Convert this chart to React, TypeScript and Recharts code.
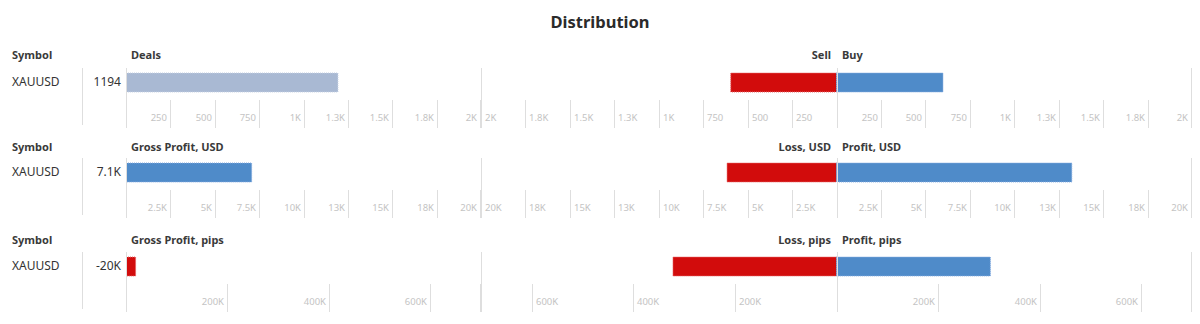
import React from 'react';
import { BarChart, Bar, XAxis, YAxis, Cell } from 'recharts';

const FONT = "'Noto Sans', Tahoma, sans-serif";

// ---------- data ----------
const symbols = ['XAUUSD'];

const rowTitles = ['Deals', 'Gross Profit, USD', 'Gross Profit, pips'];
const negTitles = ['Sell', 'Loss, USD', 'Loss, pips'];
const posTitles = ['Buy', 'Profit, USD', 'Profit, pips'];

// Row 1 — deals
const dealsTotal = [1194];
const dealsTotalLabels = ['1194'];
const dealsSell = [595];
const dealsBuy = [599];
const dealsTicks = [250, 500, 750, 1000, 1250, 1500, 1750, 2000];
const dealsTickLabels = ['250', '500', '750', '1K', '1.3K', '1.5K', '1.8K', '2K'];
const dealsMax = 2000;

// Row 2 — USD
const grossProfitUsd = [7080];
const grossProfitUsdLabels = ['7.1K'];
const lossUsd = [6158];
const profitUsd = [13238];
const usdTicks = [2500, 5000, 7500, 10000, 12500, 15000, 17500, 20000];
const usdTickLabels = ['2.5K', '5K', '7.5K', '10K', '13K', '15K', '18K', '20K'];
const usdMax = 20000;

// Row 3 — pips
const grossProfitPips = [-19000];
const grossProfitPipsLabels = ['-20K'];
const lossPips = [322000];
const profitPips = [303000];
const pipsTicks = [200000, 400000, 600000];
const pipsTickLabels = ['200K', '400K', '600K'];
const pipsMax = 700000;

// ---------- styles ----------
const DEALS = '#a9b9d3';
const BLUE = '#4f8bc9';
const RED = '#d20c0c';
const STROKES: Record<string, string> = {
  [DEALS]: '#c3cfe2',
  [BLUE]: '#86ace0',
  [RED]: '#e86a6a',
};
const GRID = '#dedede';
const TICK_TEXT = '#c4c4c4';
const TEXT = '#333333';

const LEFT_X = 126;
const LEFT_W = 355;
const MID_X = 481;
const MID_W = 711;
const PLOT_H = 29;
const AXIS_H = 32;

type RowCfg = {
  top: number;
  headerY: number;
  total: number[];
  totalLabels: string[];
  neg: number[];
  pos: number[];
  ticks: number[];
  tickLabels: string[];
  max: number;
  baseColor: string;
};

const rows: RowCfg[] = [
  { top: 68, headerY: 55, total: dealsTotal, totalLabels: dealsTotalLabels, neg: dealsSell, pos: dealsBuy, ticks: dealsTicks, tickLabels: dealsTickLabels, max: dealsMax, baseColor: DEALS },
  { top: 158, headerY: 147, total: grossProfitUsd, totalLabels: grossProfitUsdLabels, neg: lossUsd, pos: profitUsd, ticks: usdTicks, tickLabels: usdTickLabels, max: usdMax, baseColor: BLUE },
  { top: 252, headerY: 240, total: grossProfitPips, totalLabels: grossProfitPipsLabels, neg: lossPips, pos: profitPips, ticks: pipsTicks, tickLabels: pipsTickLabels, max: pipsMax, baseColor: BLUE },
];

function Txt({ x, y, text, size = 12, bold = false, color = TEXT, align = 'left' }: any) {
  const w = 300;
  const left = align === 'left' ? x : align === 'right' ? x - w : x - w / 2;
  return (
    <div
      style={{
        position: 'absolute',
        left,
        top: y - size * 0.53,
        width: w,
        fontFamily: FONT,
        fontSize: size,
        lineHeight: `${size}px`,
        fontWeight: bold ? 700 : 400,
        color,
        textAlign: align,
        whiteSpace: 'nowrap',
      }}
    >
      {text}
    </div>
  );
}

function makeTick(cfg: RowCfg, fullAt: number[], mirrored: boolean, chartW: number) {
  return (props: any) => {
    const { x, y, payload } = props;
    const v: number = payload.value;
    const lx = Math.min(Math.round(x) + 0.5, chartW - 0.5);
    const full = fullAt.includes(v);
    const idx = cfg.ticks.indexOf(Math.abs(v));
    const label = idx >= 0 ? cfg.tickLabels[idx] : null;
    const neg = mirrored && v < 0;
    return (
      <g>
        <line x1={lx} x2={lx} y1={full ? y - PLOT_H : y + 3} y2={y + 31} stroke={GRID} strokeWidth={1} />
        {label && (
          <text
            x={neg ? lx + 3.5 : lx - 3.5}
            y={y + 20}
            textAnchor={neg ? 'start' : 'end'}
            dominantBaseline="central"
            fontFamily={FONT}
            fontSize={9.5}
            fill={TICK_TEXT}
          >
            {label}
          </text>
        )}
      </g>
    );
  };
}

function LeftChart({ cfg }: { cfg: RowCfg }) {
  const data = symbols.map((s, i) => ({ name: s, value: Math.abs(cfg.total[i]), raw: cfg.total[i] }));
  const ticks = Array.from(new Set([0, ...cfg.ticks, cfg.max])).sort((a, b) => a - b);
  return (
    <div style={{ position: 'absolute', left: LEFT_X, top: cfg.top }}>
      <BarChart width={LEFT_W} height={PLOT_H + AXIS_H} data={data} layout="vertical" margin={{ top: 0, right: 0, bottom: 0, left: 0 }}>
        <XAxis
          type="number"
          domain={[0, cfg.max]}
          ticks={ticks}
          interval={0}
          height={AXIS_H}
          axisLine={false}
          tickLine={false}
          tickSize={0}
          tickMargin={0}
          allowDataOverflow
          tick={makeTick(cfg, [0], false, LEFT_W)}
        />
        <YAxis type="category" dataKey="name" hide />
        <Bar dataKey="value" barSize={19} isAnimationActive={false} strokeDasharray="1 1" strokeWidth={1}>
          {data.map((d, i) => {
            const c = d.raw < 0 ? RED : cfg.baseColor;
            return <Cell key={i} fill={c} stroke={STROKES[c]} />;
          })}
        </Bar>
      </BarChart>
    </div>
  );
}

function MidChart({ cfg }: { cfg: RowCfg }) {
  const data = symbols.map((s, i) => ({ name: s, neg: -cfg.neg[i], pos: cfg.pos[i] }));
  const ticks = Array.from(
    new Set([-cfg.max, ...cfg.ticks.map((t) => -t), 0, ...cfg.ticks, cfg.max])
  ).sort((a, b) => a - b);
  return (
    <div style={{ position: 'absolute', left: MID_X, top: cfg.top }}>
      <BarChart
        width={MID_W}
        height={PLOT_H + AXIS_H}
        data={data}
        layout="vertical"
        stackOffset="sign"
        margin={{ top: 0, right: 0, bottom: 0, left: 0 }}
      >
        <XAxis
          type="number"
          domain={[-cfg.max, cfg.max]}
          ticks={ticks}
          interval={0}
          height={AXIS_H}
          axisLine={false}
          tickLine={false}
          tickSize={0}
          tickMargin={0}
          allowDataOverflow
          tick={makeTick(cfg, [-cfg.max, 0, cfg.max], true, MID_W)}
        />
        <YAxis type="category" dataKey="name" hide />
        <Bar dataKey="neg" stackId="s" barSize={19} fill={RED} stroke={STROKES[RED]} strokeDasharray="1 1" isAnimationActive={false} />
        <Bar dataKey="pos" stackId="s" barSize={19} fill={BLUE} stroke={STROKES[BLUE]} strokeDasharray="1 1" isAnimationActive={false} />
      </BarChart>
    </div>
  );
}

export default function App() {
  return (
    <div style={{ position: 'absolute', left: 0, top: 0, width: 1200, height: 324, background: '#fff', overflow: 'hidden' }}>
      <Txt x={600} y={22.5} text="Distribution" size={16.5} bold align="center" color="#2b2b2b" />
      {rows.map((cfg, r) => (
        <React.Fragment key={r}>
          <Txt x={12} y={cfg.headerY} text="Symbol" size={11} bold color="#3a3a3a" />
          <Txt x={131} y={cfg.headerY} text={rowTitles[r]} size={11} bold color="#3a3a3a" />
          <Txt x={831} y={cfg.headerY} text={negTitles[r]} size={11} bold color="#3a3a3a" align="right" />
          <Txt x={842} y={cfg.headerY} text={posTitles[r]} size={11} bold color="#3a3a3a" />
          {symbols.map((s, i) => (
            <React.Fragment key={s}>
              <Txt x={12} y={cfg.top + 14.5} text={s} size={12} />
              <Txt x={121} y={cfg.top + 14.5} text={cfg.totalLabels[i]} size={12} align="right" />
            </React.Fragment>
          ))}
          <div style={{ position: 'absolute', left: 82, top: cfg.top, width: 1, height: 57, background: GRID }} />
          <LeftChart cfg={cfg} />
          <MidChart cfg={cfg} />
        </React.Fragment>
      ))}
    </div>
  );
}
